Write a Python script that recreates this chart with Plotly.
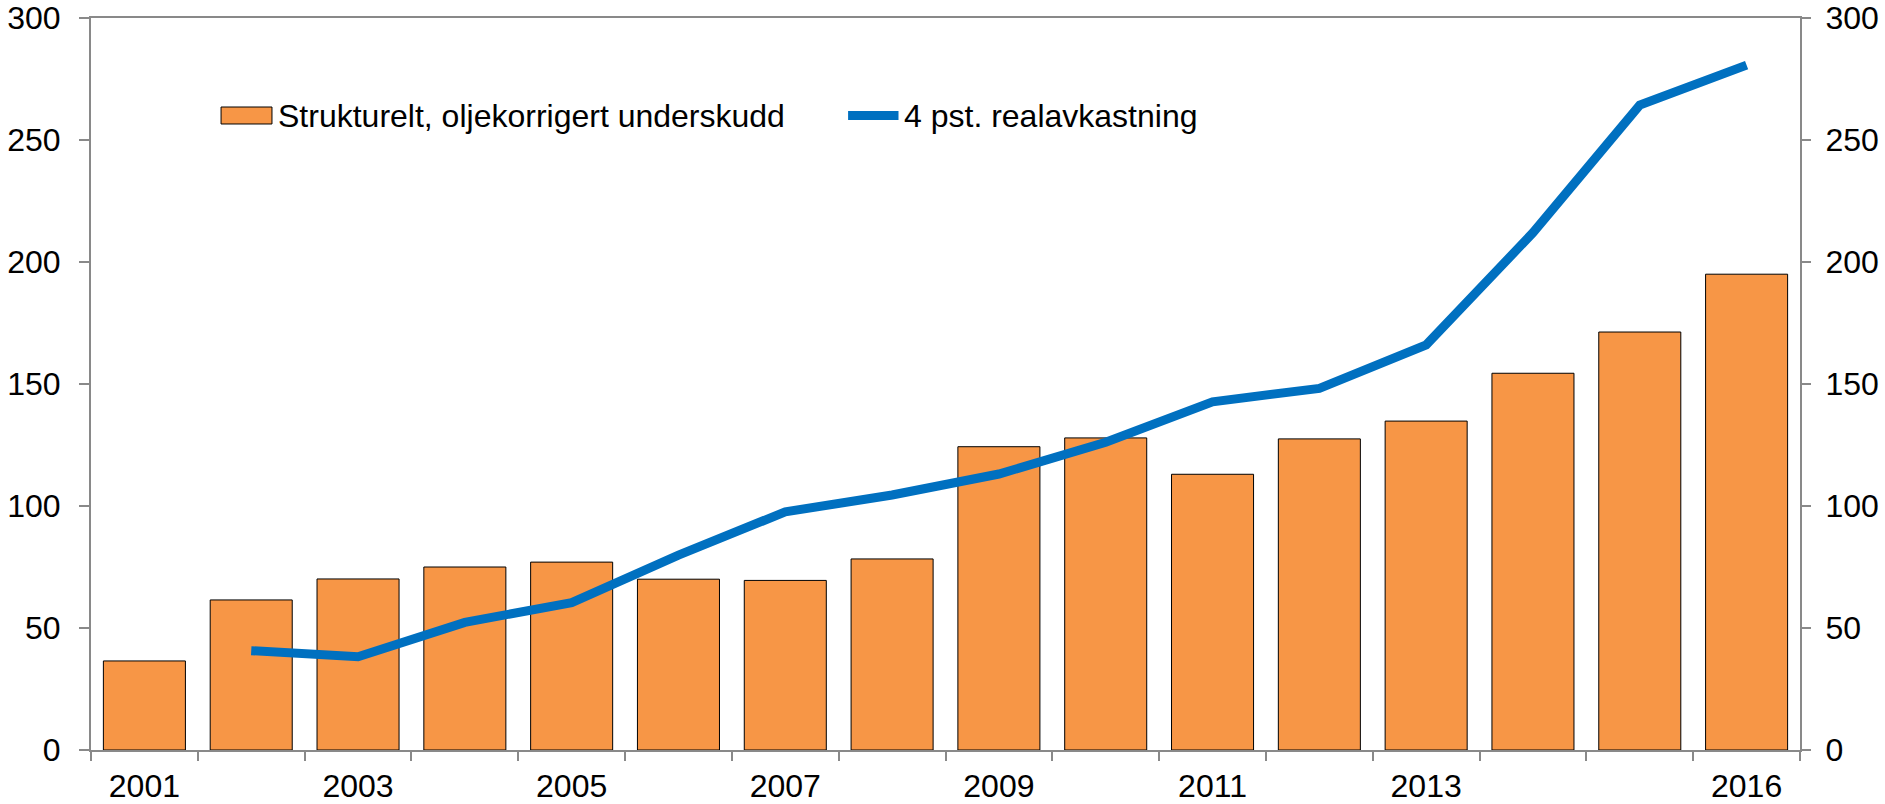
import plotly.graph_objects as go

years = [str(y) for y in range(2001, 2017)]
tick_labels = ["2001", "", "2003", "", "2005", "", "2007", "", "2009", "", "2011", "", "2013", "", "", "2016"]
underskudd = [36.5, 61.5, 70.1, 75.0, 77.0, 70.0, 69.5, 78.3, 124.3, 127.9, 113.0, 127.5, 134.8, 154.4, 171.3, 195.0]
line_years = years[1:]
realavkastning = [40.7, 38.2, 52.3, 60.4, 79.9, 97.6, 104.5, 113.1, 126.1, 142.7, 148.2, 166.0, 212.0, 264.3, 280.7]

name_bar = "Strukturelt, oljekorrigert underskudd"
name_line = "4 pst. realavkastning"

ORANGE = "#F79646"
BLUE = "#0070C0"
GRAY = "#898989"
FONT = "Liberation Sans, Arial, sans-serif"
FS = 32

fig = go.Figure()
fig.add_trace(go.Bar(x=years, y=underskudd, name=name_bar,
                     marker=dict(color=ORANGE, line=dict(color="#000000", width=1)),
                     showlegend=False))
fig.add_trace(go.Scatter(x=line_years, y=realavkastning, name=name_line, mode="lines",
                         line=dict(color=BLUE, width=9), showlegend=False, yaxis="y2"))

fig.update_layout(
    width=1885, height=804,
    margin=dict(l=91, r=85, t=18, b=54, autoexpand=False),
    paper_bgcolor="white", plot_bgcolor="white",
    showlegend=False,
    bargap=0.232,
    font=dict(family=FONT, size=FS, color="#000000"),
    xaxis=dict(type="category", tickmode="array", tickvals=years, ticktext=tick_labels,
               tickson="boundaries", ticks="outside", ticklen=9, tickwidth=2, tickcolor=GRAY,
               showline=True, linecolor=GRAY, linewidth=2, mirror=True, automargin=False,
               showgrid=False, zeroline=False, tickfont=dict(size=FS), ticklabelstandoff=7,
               range=[-0.5, 15.5]),
    yaxis=dict(range=[0, 300], dtick=50, tick0=0, ticks="outside", ticklen=10, tickwidth=2,
               tickcolor=GRAY, showline=True, linecolor=GRAY, linewidth=2, automargin=False,
               showgrid=False, zeroline=False, tickfont=dict(size=FS), ticklabelstandoff=12),
    yaxis2=dict(range=[0, 300], dtick=50, tick0=0, overlaying="y", side="right",
                ticks="outside", ticklen=9, tickwidth=2, tickcolor=GRAY, automargin=False,
                showline=True, linecolor=GRAY, linewidth=2,
                showgrid=False, zeroline=False, tickfont=dict(size=FS), ticklabelstandoff=8),
)

# Legend drawn manually to match the reference style
fig.add_shape(type="rect", xref="paper", yref="paper", x0=0.0761, x1=0.1059, y0=0.8552, y1=0.8784,
              fillcolor=ORANGE, line=dict(color="#000000", width=1))
fig.add_annotation(xref="paper", yref="paper", x=0.1085, y=0.8668, text=name_bar, showarrow=False,
                   xanchor="left", yanchor="middle", font=dict(size=FS, family=FONT))
fig.add_shape(type="line", xref="paper", yref="paper", x0=0.4430, x1=0.4725, y0=0.8668, y1=0.8668,
              line=dict(color=BLUE, width=9))
fig.add_annotation(xref="paper", yref="paper", x=0.4748, y=0.8668, text=name_line, showarrow=False,
                   xanchor="left", yanchor="middle", font=dict(size=FS, family=FONT))

fig.write_html("out.html", config={"displayModeBar": False},
               post_script="document.body.style.margin='0';document.body.style.overflow='hidden';")
